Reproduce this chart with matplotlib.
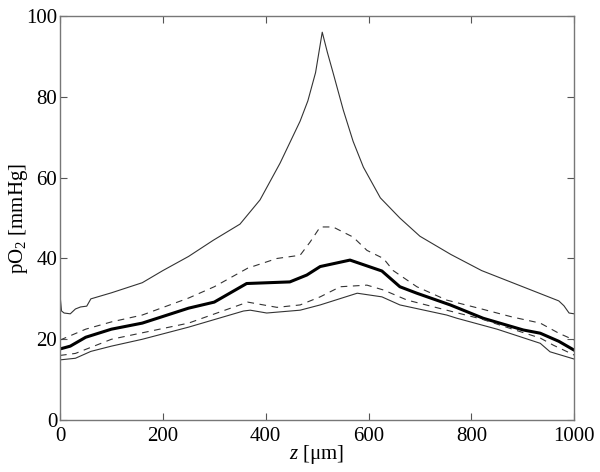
import matplotlib
matplotlib.use("Agg")
import matplotlib.pyplot as plt
import numpy as np

plt.rcParams['font.family'] = ['Liberation Serif', 'DejaVu Serif']
plt.rcParams['mathtext.fontset'] = 'custom'
plt.rcParams['mathtext.it'] = 'Liberation Serif:italic'
plt.rcParams['mathtext.rm'] = 'Liberation Serif'

# upper solid curve (max)
z_max = [0, 3, 8, 20, 30, 40, 52, 60, 100, 160, 200, 250, 298, 350, 389, 428, 467, 482, 497, 510,
         520, 531, 551, 570, 590, 623, 661, 700, 760, 820, 880, 940, 970, 980, 990, 1000]
p_max = [31, 27, 26.5, 26.3, 27.5, 28, 28.2, 30, 31.5, 34, 37, 40.5, 44.5, 48.5, 54.5, 63.6, 74, 79, 86, 96,
         91, 86, 76.7, 69, 62.6, 55, 50, 45.5, 41, 37, 34, 31, 29.5, 28.3, 26.5, 26.3]

# upper dashed curve
z_up = [0, 50, 100, 160, 250, 300, 365, 422, 467, 486, 506, 531, 551, 570, 597, 629, 648, 694,
        752, 820, 880, 934, 970, 1000]
p_up = [19.8, 22.5, 24.3, 26, 30.2, 33, 37.6, 40, 40.8, 44, 47.8, 47.8, 46.5, 45.3, 42, 40, 37, 33,
        29.7, 27.5, 25.5, 24, 21.5, 19.8]

# bold mean curve
z_mean = [0, 20, 50, 100, 160, 250, 300, 363, 447, 480, 506, 564, 626, 661, 694, 759, 823, 901,
          934, 970, 1000]
p_mean = [17.6, 18.3, 20.5, 22.5, 24, 27.7, 29.2, 33.8, 34.2, 35.9, 38, 39.6, 36.9, 33, 31.4, 28.5,
          25.2, 22.3, 21.5, 19.5, 17.3]

# lower dashed curve
z_lo = [0, 30, 100, 250, 365, 422, 467, 506, 545, 597, 629, 675, 752, 820, 880, 934, 960, 1000]
p_lo = [16, 16.5, 20, 24, 29.2, 27.9, 28.5, 30.5, 33, 33.4, 32.2, 29.7, 27.2, 25, 22.5, 20.3, 18.5, 16.1]

# lower solid curve (min)
z_min = [0, 30, 60, 100, 160, 250, 357, 370, 402, 467, 506, 578, 626, 661, 752, 772, 850, 934, 953,
         1000]
p_min = [14.9, 15.3, 17, 18.3, 20, 23, 27, 27.2, 26.5, 27.2, 28.5, 31.4, 30.5, 28.5, 26, 25.2, 22.5,
         19, 16.9, 15.1]

fig = plt.figure(figsize=(6, 4.72), dpi=100)
ax = fig.add_axes([0.1, 0.11, 0.857, 0.856])

ax.plot(z_max, p_max, color='#333333', lw=0.8)
ax.plot(z_up, p_up, color='#333333', lw=0.8, ls=(0, (6, 5)))
ax.plot(z_mean, p_mean, color='black', lw=2.2)
ax.plot(z_lo, p_lo, color='#333333', lw=0.8, ls=(0, (6, 5)))
ax.plot(z_min, p_min, color='#333333', lw=0.8)

ax.set_xlim(0, 1000)
ax.set_ylim(0, 100)
ax.set_xticks([0, 200, 400, 600, 800, 1000])
ax.set_yticks([0, 20, 40, 60, 80, 100])
ax.tick_params(direction='in', top=True, right=True, labelsize=15, length=5, color='#555555', pad=2)
ax.tick_params(axis='x', pad=5)
for s in ax.spines.values():
    s.set_color('#777777')
    s.set_linewidth(1.0)

ax.set_xlabel(r'$z$ [μm]', fontsize=15, labelpad=-2)
ax.set_ylabel(r'pO$_2$ [mmHg]', fontsize=15, labelpad=-3)

fig.savefig('out.png', dpi=100)
